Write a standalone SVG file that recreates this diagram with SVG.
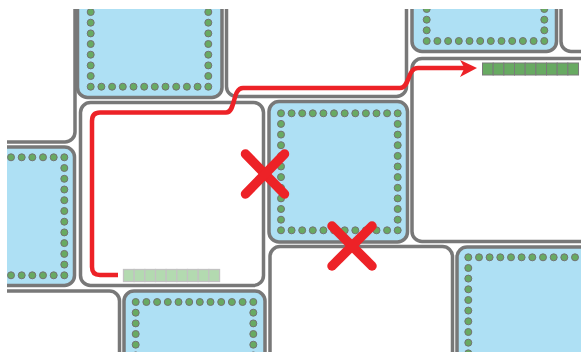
<svg xmlns="http://www.w3.org/2000/svg" width="581" height="352" viewBox="0 0 581 352">
<defs>
<style>
.blk{stroke:#787878;stroke-width:3.5}
.blue{fill:#aee0f4}
.white{fill:#ffffff}
.dot{fill:#68aa62;stroke:#737373;stroke-width:1}
.red{fill:none;stroke:#ed2227;stroke-width:4.5;stroke-linecap:butt;stroke-linejoin:round}
.x{stroke:#ed2227;stroke-width:9.5;stroke-linecap:round}
.cell{fill:#68aa62;stroke:#7a7a7a;stroke-width:1}
.cellf{fill:#b3dab0;stroke:#c2c2c2;stroke-width:1.3}
</style>
<clipPath id="clip"><rect x="7" y="9" width="574" height="343"/></clipPath>
</defs>
<rect width="581" height="352" fill="#ffffff"/>
<g clip-path="url(#clip)">
<g id="block-c"><rect class="blk white" x="-30" y="-30" width="105" height="172" rx="10"/></g>
<g id="block-a"><rect class="blk blue" x="77.5" y="-30" width="144.5" height="127.5" rx="10"/>
<g>
<circle class="dot" cx="90.7" cy="12" r="3.5"/><circle class="dot" cx="90.7" cy="22.7" r="3.5"/><circle class="dot" cx="90.7" cy="33.4" r="3.5"/><circle class="dot" cx="90.7" cy="44" r="3.5"/><circle class="dot" cx="90.7" cy="54.7" r="3.5"/><circle class="dot" cx="90.7" cy="65.4" r="3.5"/><circle class="dot" cx="90.7" cy="76" r="3.5"/>
<circle class="dot" cx="208.3" cy="12" r="3.5"/><circle class="dot" cx="208.3" cy="22.7" r="3.5"/><circle class="dot" cx="208.3" cy="33.4" r="3.5"/><circle class="dot" cx="208.3" cy="44" r="3.5"/><circle class="dot" cx="208.3" cy="54.7" r="3.5"/><circle class="dot" cx="208.3" cy="65.4" r="3.5"/><circle class="dot" cx="208.3" cy="76" r="3.5"/>
<circle class="dot" cx="90.7" cy="86.7" r="3.5"/><circle class="dot" cx="101.4" cy="86.7" r="3.5"/><circle class="dot" cx="112.1" cy="86.7" r="3.5"/><circle class="dot" cx="122.8" cy="86.7" r="3.5"/><circle class="dot" cx="133.5" cy="86.7" r="3.5"/><circle class="dot" cx="144.2" cy="86.7" r="3.5"/><circle class="dot" cx="154.8" cy="86.7" r="3.5"/><circle class="dot" cx="165.5" cy="86.7" r="3.5"/><circle class="dot" cx="176.2" cy="86.7" r="3.5"/><circle class="dot" cx="186.9" cy="86.7" r="3.5"/><circle class="dot" cx="197.6" cy="86.7" r="3.5"/><circle class="dot" cx="208.3" cy="86.7" r="3.5"/>
</g></g>
<g id="block-i"><rect class="blk white" x="226.5" y="-30" width="180" height="126.5" rx="10"/></g>
<g id="block-e"><rect class="blk blue" x="412" y="-30" width="144.5" height="81.5" rx="10"/>
<g>
<circle class="dot" cx="426.7" cy="9" r="3.5"/><circle class="dot" cx="426.7" cy="19.7" r="3.5"/><circle class="dot" cx="426.7" cy="30.3" r="3.5"/>
<circle class="dot" cx="544.3" cy="9" r="3.5"/><circle class="dot" cx="544.3" cy="19.7" r="3.5"/><circle class="dot" cx="544.3" cy="30.3" r="3.5"/>
<circle class="dot" cx="426.7" cy="41" r="3.5"/><circle class="dot" cx="437.4" cy="41" r="3.5"/><circle class="dot" cx="448.1" cy="41" r="3.5"/><circle class="dot" cx="458.8" cy="41" r="3.5"/><circle class="dot" cx="469.5" cy="41" r="3.5"/><circle class="dot" cx="480.2" cy="41" r="3.5"/><circle class="dot" cx="490.8" cy="41" r="3.5"/><circle class="dot" cx="501.5" cy="41" r="3.5"/><circle class="dot" cx="512.2" cy="41" r="3.5"/><circle class="dot" cx="522.9" cy="41" r="3.5"/><circle class="dot" cx="533.6" cy="41" r="3.5"/><circle class="dot" cx="544.3" cy="41" r="3.5"/>
</g></g>
<g id="block-k"><rect class="blk white" x="561" y="-30" width="60" height="81.5" rx="10"/></g>
<g id="block-b"><rect class="blk blue" x="-30" y="147" width="104.5" height="138.5" rx="10"/>
<g>
<circle class="dot" cx="11" cy="157.3" r="3.5"/><circle class="dot" cx="21.7" cy="157.3" r="3.5"/><circle class="dot" cx="32.3" cy="157.3" r="3.5"/><circle class="dot" cx="43" cy="157.3" r="3.5"/><circle class="dot" cx="53.7" cy="157.3" r="3.5"/>
<circle class="dot" cx="64.3" cy="157.3" r="3.5"/><circle class="dot" cx="64.3" cy="168" r="3.5"/><circle class="dot" cx="64.3" cy="178.8" r="3.5"/><circle class="dot" cx="64.3" cy="189.5" r="3.5"/><circle class="dot" cx="64.3" cy="200.2" r="3.5"/><circle class="dot" cx="64.3" cy="211" r="3.5"/><circle class="dot" cx="64.3" cy="221.7" r="3.5"/><circle class="dot" cx="64.3" cy="232.4" r="3.5"/><circle class="dot" cx="64.3" cy="243.1" r="3.5"/><circle class="dot" cx="64.3" cy="253.9" r="3.5"/><circle class="dot" cx="64.3" cy="264.6" r="3.5"/><circle class="dot" cx="64.3" cy="275.3" r="3.5"/>
<circle class="dot" cx="11" cy="275.3" r="3.5"/><circle class="dot" cx="21.7" cy="275.3" r="3.5"/><circle class="dot" cx="32.3" cy="275.3" r="3.5"/><circle class="dot" cx="43" cy="275.3" r="3.5"/><circle class="dot" cx="53.7" cy="275.3" r="3.5"/>
</g></g>
<g id="block-d"><rect class="blk white" x="80.5" y="102.5" width="183" height="183" rx="10"/></g>
<g id="block-f"><rect class="blk blue" x="269" y="101.5" width="138.5" height="140.5" rx="10"/>
<g>
<circle class="dot" cx="281" cy="113.3" r="3.5"/><circle class="dot" cx="291.6" cy="113.3" r="3.5"/><circle class="dot" cx="302.2" cy="113.3" r="3.5"/><circle class="dot" cx="312.8" cy="113.3" r="3.5"/><circle class="dot" cx="323.4" cy="113.3" r="3.5"/><circle class="dot" cx="334" cy="113.3" r="3.5"/><circle class="dot" cx="344.7" cy="113.3" r="3.5"/><circle class="dot" cx="355.3" cy="113.3" r="3.5"/><circle class="dot" cx="365.9" cy="113.3" r="3.5"/><circle class="dot" cx="376.5" cy="113.3" r="3.5"/><circle class="dot" cx="387.1" cy="113.3" r="3.5"/><circle class="dot" cx="397.7" cy="113.3" r="3.5"/>
<circle class="dot" cx="281" cy="230.3" r="3.5"/><circle class="dot" cx="291.6" cy="230.3" r="3.5"/><circle class="dot" cx="302.2" cy="230.3" r="3.5"/><circle class="dot" cx="312.8" cy="230.3" r="3.5"/><circle class="dot" cx="323.4" cy="230.3" r="3.5"/><circle class="dot" cx="334" cy="230.3" r="3.5"/><circle class="dot" cx="344.7" cy="230.3" r="3.5"/><circle class="dot" cx="355.3" cy="230.3" r="3.5"/><circle class="dot" cx="365.9" cy="230.3" r="3.5"/><circle class="dot" cx="376.5" cy="230.3" r="3.5"/><circle class="dot" cx="387.1" cy="230.3" r="3.5"/><circle class="dot" cx="397.7" cy="230.3" r="3.5"/>
<circle class="dot" cx="281" cy="123.9" r="3.5"/><circle class="dot" cx="281" cy="134.6" r="3.5"/><circle class="dot" cx="281" cy="145.2" r="3.5"/><circle class="dot" cx="281" cy="155.9" r="3.5"/><circle class="dot" cx="281" cy="166.5" r="3.5"/><circle class="dot" cx="281" cy="177.1" r="3.5"/><circle class="dot" cx="281" cy="187.8" r="3.5"/><circle class="dot" cx="281" cy="198.4" r="3.5"/><circle class="dot" cx="281" cy="209" r="3.5"/><circle class="dot" cx="281" cy="219.7" r="3.5"/>
<circle class="dot" cx="397.7" cy="123.9" r="3.5"/><circle class="dot" cx="397.7" cy="134.6" r="3.5"/><circle class="dot" cx="397.7" cy="145.2" r="3.5"/><circle class="dot" cx="397.7" cy="155.9" r="3.5"/><circle class="dot" cx="397.7" cy="166.5" r="3.5"/><circle class="dot" cx="397.7" cy="177.1" r="3.5"/><circle class="dot" cx="397.7" cy="187.8" r="3.5"/><circle class="dot" cx="397.7" cy="198.4" r="3.5"/><circle class="dot" cx="397.7" cy="209" r="3.5"/><circle class="dot" cx="397.7" cy="219.7" r="3.5"/>
</g></g>
<g id="block-j"><rect class="blk white" x="412" y="58.5" width="210" height="183" rx="10"/></g>
<g id="block-l"><rect class="blk white" x="-30" y="291" width="149.5" height="100" rx="10"/></g>
<g id="block-g"><rect class="blk blue" x="124" y="291" width="141" height="100" rx="10"/>
<g>
<circle class="dot" cx="135.7" cy="302" r="3.5"/><circle class="dot" cx="146.4" cy="302" r="3.5"/><circle class="dot" cx="157.1" cy="302" r="3.5"/><circle class="dot" cx="167.8" cy="302" r="3.5"/><circle class="dot" cx="178.5" cy="302" r="3.5"/><circle class="dot" cx="189.2" cy="302" r="3.5"/><circle class="dot" cx="199.8" cy="302" r="3.5"/><circle class="dot" cx="210.5" cy="302" r="3.5"/><circle class="dot" cx="221.2" cy="302" r="3.5"/><circle class="dot" cx="231.9" cy="302" r="3.5"/><circle class="dot" cx="242.6" cy="302" r="3.5"/><circle class="dot" cx="253.3" cy="302" r="3.5"/>
<circle class="dot" cx="135.7" cy="312.7" r="3.5"/><circle class="dot" cx="135.7" cy="323.4" r="3.5"/><circle class="dot" cx="135.7" cy="334" r="3.5"/><circle class="dot" cx="135.7" cy="344.7" r="3.5"/><circle class="dot" cx="135.7" cy="355.4" r="3.5"/>
<circle class="dot" cx="253.3" cy="312.7" r="3.5"/><circle class="dot" cx="253.3" cy="323.4" r="3.5"/><circle class="dot" cx="253.3" cy="334" r="3.5"/><circle class="dot" cx="253.3" cy="344.7" r="3.5"/><circle class="dot" cx="253.3" cy="355.4" r="3.5"/>
</g></g>
<g id="block-m"><rect class="blk white" x="270" y="246.5" width="182.5" height="140" rx="10"/></g>
<g id="block-h"><rect class="blk blue" x="457" y="247" width="170" height="140" rx="10"/>
<g>
<circle class="dot" cx="468.3" cy="257.3" r="3.5"/><circle class="dot" cx="479" cy="257.3" r="3.5"/><circle class="dot" cx="489.6" cy="257.3" r="3.5"/><circle class="dot" cx="500.3" cy="257.3" r="3.5"/><circle class="dot" cx="511" cy="257.3" r="3.5"/><circle class="dot" cx="521.6" cy="257.3" r="3.5"/><circle class="dot" cx="532.3" cy="257.3" r="3.5"/><circle class="dot" cx="543" cy="257.3" r="3.5"/><circle class="dot" cx="553.7" cy="257.3" r="3.5"/><circle class="dot" cx="564.3" cy="257.3" r="3.5"/><circle class="dot" cx="575" cy="257.3" r="3.5"/>
<circle class="dot" cx="468.3" cy="268" r="3.5"/><circle class="dot" cx="468.3" cy="278.6" r="3.5"/><circle class="dot" cx="468.3" cy="289.3" r="3.5"/><circle class="dot" cx="468.3" cy="300" r="3.5"/><circle class="dot" cx="468.3" cy="310.6" r="3.5"/><circle class="dot" cx="468.3" cy="321.3" r="3.5"/><circle class="dot" cx="468.3" cy="332" r="3.5"/><circle class="dot" cx="468.3" cy="342.7" r="3.5"/><circle class="dot" cx="468.3" cy="353.3" r="3.5"/>
</g></g>
<g id="bar-start">
<rect class="cellf" x="123.5" y="269.5" width="10.67" height="12"/><rect class="cellf" x="134.17" y="269.5" width="10.67" height="12"/><rect class="cellf" x="144.84" y="269.5" width="10.67" height="12"/><rect class="cellf" x="155.51" y="269.5" width="10.67" height="12"/><rect class="cellf" x="166.18" y="269.5" width="10.67" height="12"/><rect class="cellf" x="176.85" y="269.5" width="10.67" height="12"/><rect class="cellf" x="187.52" y="269.5" width="10.67" height="12"/><rect class="cellf" x="198.19" y="269.5" width="10.67" height="12"/><rect class="cellf" x="208.86" y="269.5" width="10.67" height="12"/>
</g>
<g id="bar-end">
<rect class="cell" x="482.5" y="63" width="10.67" height="12"/><rect class="cell" x="493.17" y="63" width="10.67" height="12"/><rect class="cell" x="503.84" y="63" width="10.67" height="12"/><rect class="cell" x="514.51" y="63" width="10.67" height="12"/><rect class="cell" x="525.18" y="63" width="10.67" height="12"/><rect class="cell" x="535.85" y="63" width="10.67" height="12"/><rect class="cell" x="546.52" y="63" width="10.67" height="12"/><rect class="cell" x="557.19" y="63" width="10.67" height="12"/><rect class="cell" x="567.86" y="63" width="10.67" height="12"/>
</g>
<g id="connectors">
<path class="red" d="M118 275 H100 Q92 275 92 267 V121 Q92 112.5 100 112.5 H226 C236 112.5 232 88 243 88 H400 C410 88 407 68 418 68 H465"/>
<polygon points="477,68 460,60 464.5,68 460,77" fill="#ed2227"/>
</g>
<g id="blocked-1"><line class="x" x1="245.5" y1="154" x2="284.5" y2="194"/><line class="x" x1="284.5" y1="154" x2="245.5" y2="194"/></g>
<g id="blocked-2"><line class="x" x1="332" y1="226" x2="372" y2="266"/><line class="x" x1="372" y1="226" x2="332" y2="266"/></g>
</g>
</svg>
